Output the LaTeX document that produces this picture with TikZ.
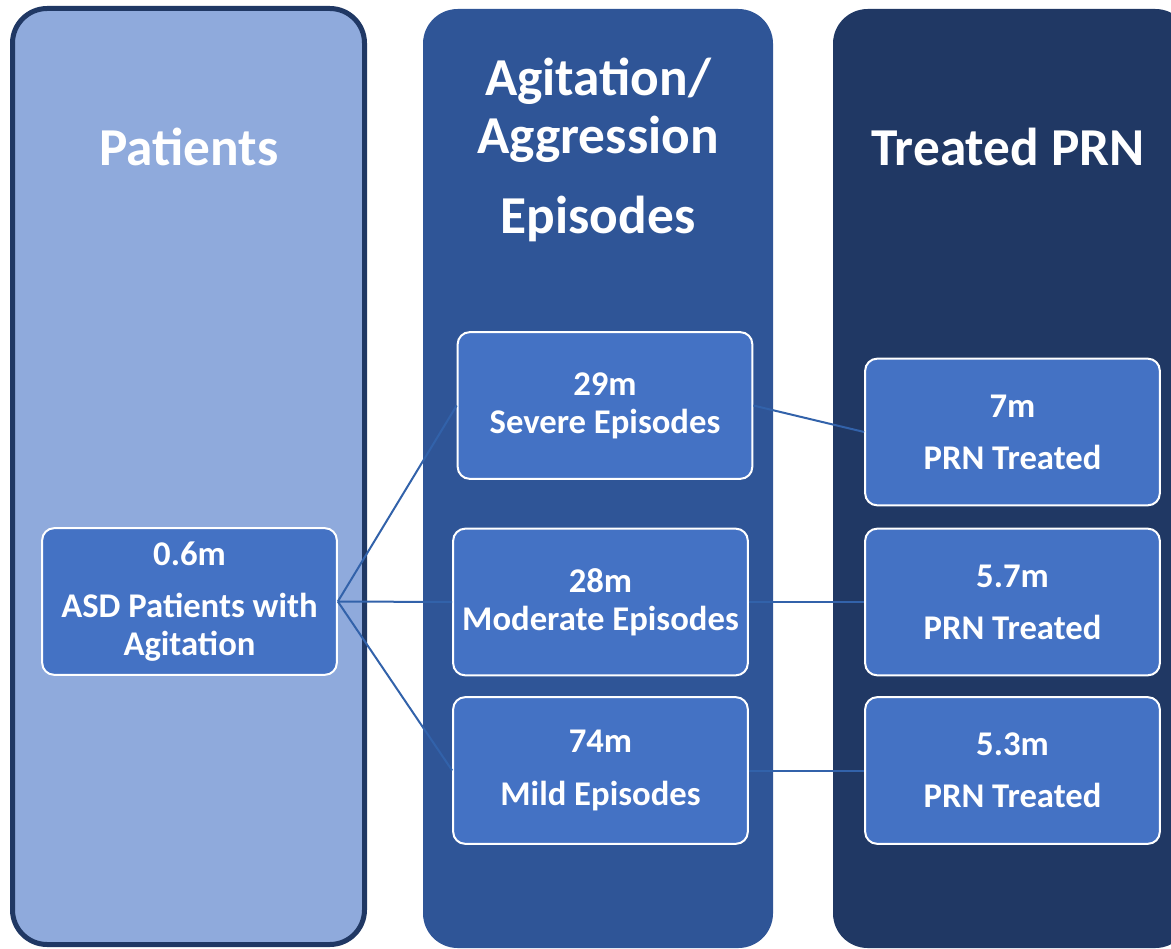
\documentclass[tikz,border=0pt]{standalone}
\usepackage{fontspec}
\setmainfont{Carlito}
\definecolor{panellight}{HTML}{8FAADC}
\definecolor{panelmid}{HTML}{2F5597}
\definecolor{paneldark}{HTML}{203864}
\definecolor{boxblue}{HTML}{4472C4}
\definecolor{linkblue}{HTML}{3262AA}
\begin{document}
\begin{tikzpicture}[x=0.75pt,y=-0.75pt]

      \tikzset{panel/.style={rounded corners=26pt},
               countbox/.style={draw=white, line width=1.5pt, fill=boxblue, rounded corners=9pt, minimum width=221pt, minimum height=110pt, inner sep=0pt, align=center, text=white, font=\bfseries\fontsize{26}{28.5}\selectfont},
               heading/.style={text=white, align=center, font=\bfseries\fontsize{40}{43.5}\selectfont},
               link/.style={draw=linkblue, line width=1.5pt}}
      \useasboundingbox (0,0) rectangle (1171,949);
      \clip (0,0) rectangle (1171,949);
%% Panels
      	\fill[panel, panellight] (12.5,8.5) rectangle (364.5,944.5);
      	\draw[panel, paneldark, line width=3.75pt] (12.5,8.5) rectangle (364.5,944.5);
      	\fill[panel, panelmid] (423,9) rectangle (773,948);
      	\fill[panel, paneldark] (833,9) rectangle (1190,948);
%% Headings
      	\node[heading, anchor=base] (patients) at (189,165) {Patients};
      	\node[heading, anchor=base] (episodes) at (598,233) {Agitation/\\Aggression\\[16.5pt]Episodes};
      	\node[heading, anchor=base] (treated) at (1008,165) {Treated PRN};
%% Counts
      	\node[countbox] (asd) at (189.5,601.5) {0.6m\\[11pt]ASD Patients with\\Agitation};
      	\node[countbox] (severe) at (605,405.5) {29m\\Severe Episodes};
      	\node[countbox] (moderate) at (600.5,602) {28m\\Moderate Episodes};
      	\node[countbox] (mild) at (600.5,770.5) {74m\\[11.25pt]Mild Episodes};
      	\node[countbox] (prnA) at (1012.5,432) {7m\\[10.5pt]PRN Treated};
      	\node[countbox] (prnB) at (1012.5,602) {5.7m\\[10.5pt]PRN Treated};
      	\node[countbox] (prnC) at (1012.5,770.5) {5.3m\\[10.5pt]PRN Treated};
%Edges
		\path[link] (asd.east) edge (severe.west);
		\path[link] (asd.east) edge (moderate.west);
		\path[link] (asd.east) edge (mild.west);
		\path[link] (severe.east) edge (prnA.west);
		\path[link] (moderate.east) edge (prnB.west);
		\path[link] (mild.east) edge (prnC.west);

	\end{tikzpicture}
\end{document}
